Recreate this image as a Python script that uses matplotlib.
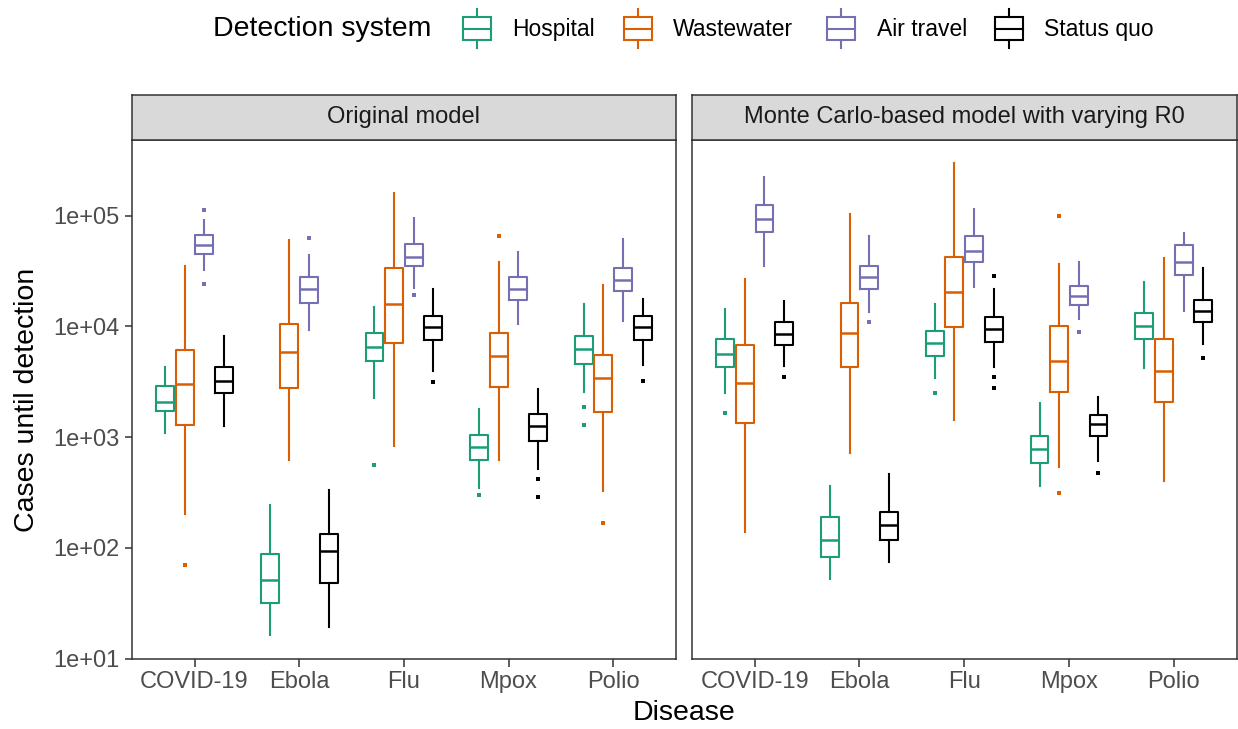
import matplotlib
matplotlib.use("Agg")
import matplotlib.pyplot as plt
from matplotlib.patches import Rectangle
from matplotlib.lines import Line2D

plt.rcParams['font.family'] = ['Liberation Sans', 'DejaVu Sans']

# ---- data ----
diseases = ['COVID-19', 'Ebola', 'Flu', 'Mpox', 'Polio']
systems = ['Hospital', 'Wastewater', 'Air travel', 'Status quo']
colors = ['#1B9E77', '#D95F02', '#7570B3', '#000000']
panel_titles = ['Original model', 'Monte Carlo-based model with varying R0']

# box stats per disease: (lower whisker, Q1, median, Q3, upper whisker)
orig_hospital = [(1090, 1720, 2090, 2900, 4280), (16.4, 32, 51, 88, 242),
                 (2240, 4850, 6560, 8810, 14900), (348, 619, 809, 1050, 1790),
                 (2580, 4620, 6200, 8220, 16000)]
orig_wastewater = [(201, 1300, 3030, 6120, 35200), (628, 2770, 5870, 10500, 60400),
                   (838, 7140, 16000, 34000, 159000), (619, 2860, 5390, 8810, 38000),
                   (325, 1690, 3420, 5470, 23900)]
orig_air = [(32300, 45000, 54700, 66700, 92000), (9330, 16400, 22000, 28100, 44300),
            (22300, 35400, 42800, 55500, 94700), (10500, 17500, 22000, 28100, 46600),
            (11300, 20800, 26200, 33500, 61700)]
orig_status = [(1250, 2520, 3250, 4280, 8220), (19.5, 48.7, 93, 135, 331),
               (3930, 7550, 9800, 12500, 22000), (512, 931, 1250, 1630, 2710),
               (4520, 7500, 9800, 12400, 17800)]

mc_hospital = [(2520, 4310, 5700, 7770, 14400), (52, 82.5, 117, 192, 361),
               (3420, 5390, 7140, 9130, 15800), (361, 590, 781, 1030, 2050),
               (4220, 7660, 10100, 13300, 25300)]
mc_wastewater = [(138, 1340, 3120, 6800, 27100), (713, 4310, 8810, 16200, 104000),
                 (1420, 9800, 20500, 42200, 300000), (538, 2580, 4850, 10100, 36700),
                 (406, 2090, 3990, 7770, 41900)]
mc_air = [(35400, 71500, 92700, 124500, 223000), (13400, 22000, 28100, 35400, 66200),
          (22800, 38000, 47600, 65300, 116000), (11700, 15500, 18800, 23100, 38000),
          (13900, 29100, 38500, 54700, 70000)]
mc_status = [(4370, 6750, 8510, 10900, 16900), (74, 117, 161, 213, 468),
             (4310, 7240, 9450, 12300, 22000), (611, 1030, 1320, 1580, 2320),
             (6890, 10900, 13900, 17400, 33500)]

# points lying beyond the whiskers
orig_hospital_out = [[], [], [561], [303], [1880, 1300]]
orig_wastewater_out = [[70], [], [], [66200], [169]]
orig_air_out = [[113000, 24400], [63000], [19100], [], []]
orig_status_out = [[], [], [3140], [421, 290], [3250]]
mc_hospital_out = [[1660], [], [2490], [], []]
mc_wastewater_out = [[], [], [], [313, 98800], []]
mc_air_out = [[], [11000], [], [8940], []]
mc_status_out = [[3490], [], [3490, 2770, 28500], [478], [5200]]

panels = [
    ([orig_hospital, orig_wastewater, orig_air, orig_status],
     [orig_hospital_out, orig_wastewater_out, orig_air_out, orig_status_out]),
    ([mc_hospital, mc_wastewater, mc_air, mc_status],
     [mc_hospital_out, mc_wastewater_out, mc_air_out, mc_status_out]),
]

# ---- figure ----
W, H = 1238, 729
fig = plt.figure(figsize=(W / 100, H / 100), dpi=100)

panel_top, panel_bot = 140, 658.7
strip_top = 94.7
lefts = [(131.7, 676.0), (691.7, 1236.7)]
dodge = [-0.28125, -0.09375, 0.09375, 0.28125]
edge = '#333333'

for p, ((x0, x1), (series, outs)) in enumerate(zip(lefts, panels)):
    ax = fig.add_axes([x0 / W, 1 - panel_bot / H, (x1 - x0) / W, (panel_bot - panel_top) / H])
    ax.set_yscale('log')
    for k in range(4):
        stats = []
        for i in range(len(diseases)):
            lo, q1, med, q3, hi = series[k][i]
            stats.append(dict(whislo=lo, q1=q1, med=med, q3=q3, whishi=hi, fliers=outs[k][i]))
        col = colors[k]
        ax.bxp(stats, positions=[i + 1 + dodge[k] for i in range(len(diseases))],
               widths=0.17, showcaps=False, manage_ticks=False,
               boxprops=dict(color=col, lw=1.5),
               whiskerprops=dict(color=col, lw=1.5),
               medianprops=dict(color=col, lw=1.8),
               flierprops=dict(marker='s', markersize=2.6, markerfacecolor=col,
                               markeredgewidth=0, linestyle='none'))
    ax.set_xlim(0.4, 5.6)
    ax.set_ylim(10, 10 ** 5.684)
    ax.set_xticks(range(1, len(diseases) + 1))
    ax.set_xticklabels(diseases)
    ax.set_yticks([1e1, 1e2, 1e3, 1e4, 1e5])
    ax.set_yticklabels(['1e+01', '1e+02', '1e+03', '1e+04', '1e+05'])
    ax.minorticks_off()
    ax.tick_params(length=5.4, width=1.1, color=edge, labelcolor='#4D4D4D',
                   labelsize=17, pad=3.5)
    if p == 1:
        ax.tick_params(axis='y', left=False, labelleft=False)
    for s in ax.spines.values():
        s.set_color(edge)
        s.set_linewidth(1.1)

    sax = fig.add_axes([x0 / W, 1 - panel_top / H, (x1 - x0) / W, (panel_top - strip_top) / H])
    sax.set_facecolor('#D9D9D9')
    sax.set_xticks([])
    sax.set_yticks([])
    for s in sax.spines.values():
        s.set_color(edge)
        s.set_linewidth(1.1)
    sax.text(0.5, 0.5, panel_titles[p], ha='center', va='center', fontsize=17,
             color='#1A1A1A', transform=sax.transAxes)

# axis titles
fig.text(27 / W, 1 - 399.4 / H, 'Cases until detection', rotation=90,
         ha='center', va='center', fontsize=20.5)
fig.text(684 / W, 1 - 713 / H, 'Disease', ha='center', va='center', fontsize=20.5)

# legend drawn in pixel coordinates
lax = fig.add_axes([0, 0, 1, 1], zorder=-1)
lax.set_xlim(0, W)
lax.set_ylim(H, 0)
lax.axis('off')
lax.text(213, 29, 'Detection system', ha='left', va='center', fontsize=20.5)
key_x = [477, 638, 841, 1009]
text_x = [512, 673, 877, 1044]
for k in range(4):
    cx, col = key_x[k], colors[k]
    lax.add_patch(Rectangle((cx - 14, 17), 28, 23, fill=False, edgecolor=col, lw=1.5))
    lax.add_line(Line2D([cx - 14, cx + 14], [28.5, 28.5], color=col, lw=1.5))
    lax.add_line(Line2D([cx, cx], [9, 17], color=col, lw=1.5))
    lax.add_line(Line2D([cx, cx], [40, 48], color=col, lw=1.5))
    lax.text(text_x[k], 29, systems[k], ha='left', va='center', fontsize=16.5)

fig.savefig('out.png', dpi=100)
